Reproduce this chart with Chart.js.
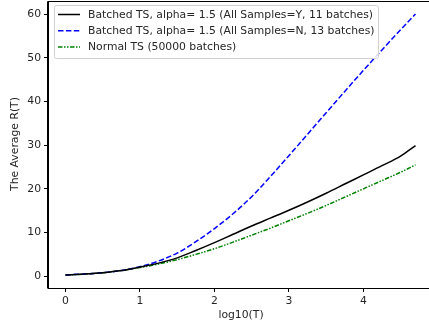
<!DOCTYPE html>
<html>
<head>
<meta charset="utf-8">
<script src="https://cdn.jsdelivr.net/npm/chart.js@4/dist/chart.umd.min.js"></script>
<style>
  html, body { margin: 0; padding: 0; background: #fff; overflow: hidden; }
  #wrap { width: 440px; height: 327px; }
</style>
</head>
<body>
<div id="wrap"><canvas id="regretChart" width="440" height="327"></canvas></div>
<script>
// log10(T) positions and average regret
const logT = [0, 0.25, 0.5, 0.75, 1, 1.25, 1.5, 1.75, 2, 2.25, 2.5, 2.75, 3, 3.25, 3.5, 3.75, 4, 4.25, 4.5, 4.7];
const batchedY = [0.3, 0.5, 0.8, 1.3, 2.1, 3.0, 4.2, 5.9, 7.7, 9.6, 11.5, 13.3, 15.1, 17.0, 19.0, 21.1, 23.2, 25.3, 27.5, 29.9];
const batchedN = [0.3, 0.5, 0.8, 1.3, 2.2, 3.5, 5.3, 7.9, 10.9, 14.3, 18.2, 22.8, 27.6, 32.5, 37.4, 42.3, 47.1, 51.8, 56.4, 60.0];
const normalTS = [0.3, 0.5, 0.8, 1.3, 2.0, 2.8, 3.8, 5.0, 6.3, 7.8, 9.4, 11.0, 12.7, 14.4, 16.2, 18.1, 20.0, 21.9, 23.8, 25.5];

const xTicks = [0, 1, 2, 3, 4];
const yTicks = [0, 10, 20, 30, 40, 50, 60];

const seriesLabels = [
    'Batched TS, alpha= 1.5 (All Samples=Y, 11 batches)',
    'Batched TS, alpha= 1.5 (All Samples=N, 13 batches)',
    'Normal TS (50000 batches)'
];

const FONT = 'DejaVu Sans';
const FSIZE = 10.8;
const TEXT = '#262626';

function toPoints(ys) {
    return ys.map((y, i) => ({ x: logT[i], y: y }));
}

// frame, legend and axis labels, drawn the matplotlib way
const framePlugin = {
    id: 'frame',
    afterDraw(chart) {
        const ctx = chart.ctx;
        const a = chart.chartArea;
        ctx.save();
        ctx.strokeStyle = '#000';
        ctx.lineWidth = 1;
        ctx.beginPath();
        ctx.moveTo(a.left - 0.5, a.bottom + 0.5);
        ctx.lineTo(a.left - 0.5, a.top + 0.5);
        ctx.lineTo(a.right + 0.5, a.top + 0.5);
        ctx.stroke();

        // legend box
        const bx = 54.5, by = 5.5, bw = 324, bh = 53;
        ctx.fillStyle = 'rgba(255,255,255,0.85)';
        ctx.strokeStyle = '#d0d0d0';
        ctx.lineWidth = 1;
        ctx.beginPath();
        ctx.roundRect(bx, by, bw, bh, 2);
        ctx.fill();
        ctx.stroke();

        const sets = chart.data.datasets;
        ctx.font = FSIZE + 'px ' + FONT;
        ctx.textBaseline = 'middle';
        sets.forEach((ds, i) => {
            const yy = 14.5 + i * 16.3;
            ctx.strokeStyle = ds.borderColor;
            ctx.lineWidth = ds.borderWidth;
            ctx.setLineDash(ds.borderDash || []);
            ctx.beginPath();
            ctx.moveTo(58, yy);
            ctx.lineTo(80, yy);
            ctx.stroke();
            ctx.setLineDash([]);
            ctx.fillStyle = TEXT;
            ctx.textAlign = 'left';
            ctx.fillText(ds.label, 88, yy + 0.5);
        });

        ctx.fillStyle = TEXT;
        ctx.textAlign = 'center';
        ctx.textBaseline = 'middle';
        ctx.fillText('log10(T)', 241, 315);
        ctx.translate(15, 144);
        ctx.rotate(-Math.PI / 2);
        ctx.fillText('The Average R(T)', 0, 0);
        ctx.restore();
    }
};

const ctx = document.getElementById('regretChart').getContext('2d');
new Chart(ctx, {
    type: 'line',
    data: {
        datasets: [{
            label: seriesLabels[0],
            data: toPoints(batchedY),
            borderColor: '#000000',
            borderWidth: 1.5,
            pointRadius: 0,
            cubicInterpolationMode: 'monotone',
            fill: false
        }, {
            label: seriesLabels[1],
            data: toPoints(batchedN),
            borderColor: '#0000ff',
            borderWidth: 1.5,
            borderDash: [5.5, 2.4],
            pointRadius: 0,
            cubicInterpolationMode: 'monotone',
            fill: false
        }, {
            label: seriesLabels[2],
            data: toPoints(normalTS),
            borderColor: '#008000',
            borderWidth: 1.5,
            borderDash: [4.5, 1.5, 1.5, 1.5, 1.5, 1.5],
            pointRadius: 0,
            cubicInterpolationMode: 'monotone',
            fill: false
        }]
    },
    options: {
        responsive: false,
        animation: false,
        layout: { padding: { top: 1, right: 7, left: 0, bottom: 0 } },
        plugins: {
            legend: { display: false },
            tooltip: { enabled: false }
        },
        scales: {
            x: {
                type: 'linear',
                min: -0.235,
                max: 4.935,
                afterBuildTicks: (scale) => { scale.ticks = xTicks.map(v => ({ value: v })); },
                afterFit: (scale) => {
                    scale.height = 39;
                    scale.paddingLeft = 0;
                    scale.paddingRight = 0;
                },
                grid: { display: true, drawOnChartArea: false, drawTicks: true, tickLength: 4, color: '#000', lineWidth: 1 },
                border: { display: true, color: '#000', width: 1 },
                ticks: { color: TEXT, font: { family: FONT, size: FSIZE }, padding: 3, maxRotation: 0 }
            },
            y: {
                type: 'linear',
                min: -2.69,
                max: 62.99,
                afterBuildTicks: (scale) => { scale.ticks = yTicks.map(v => ({ value: v })); },
                afterFit: (scale) => {
                    scale.width = 48;
                    scale.paddingTop = 0;
                    scale.paddingBottom = 0;
                },
                grid: { display: true, drawOnChartArea: false, drawTicks: true, tickLength: 4, color: '#000', lineWidth: 1 },
                border: { display: true, color: '#000', width: 1 },
                ticks: { color: TEXT, font: { family: FONT, size: FSIZE }, padding: 3 }
            }
        }
    },
    plugins: [framePlugin]
});
</script>
</body>
</html>
